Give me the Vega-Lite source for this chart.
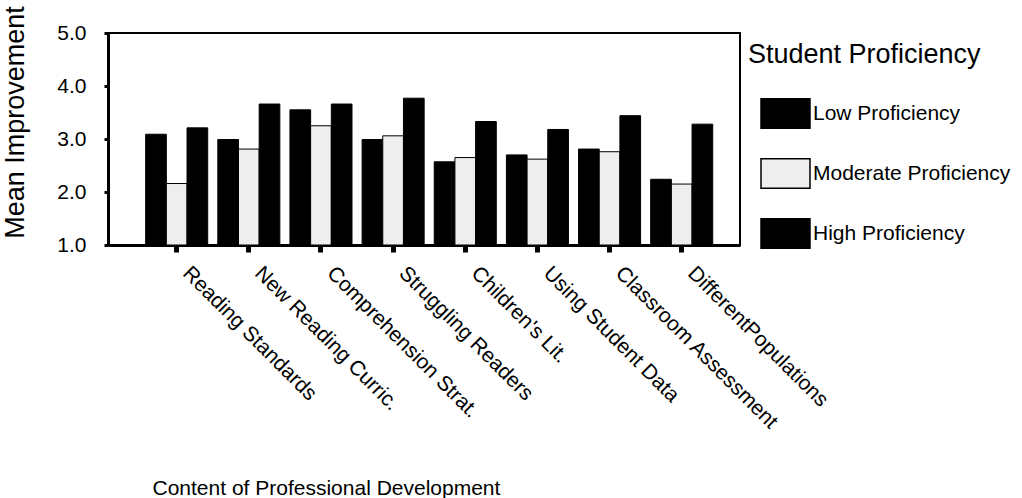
{
  "$schema": "https://vega.github.io/schema/vega-lite/v6.json",
  "autosize": "none",
  "width": 632,
  "height": 212,
  "padding": {"left": 108, "top": 33, "right": 282, "bottom": 253},
  "background": "white",
  "config": {"font": "Liberation Sans", "view": {"stroke": "black", "strokeWidth": 2}},
  "data": {"values": [
    {"content": "Reading Standards", "level": "Low Proficiency", "value": 3.09},
    {"content": "Reading Standards", "level": "Moderate Proficiency", "value": 2.16},
    {"content": "Reading Standards", "level": "High Proficiency", "value": 3.21},
    {"content": "New Reading Curric.", "level": "Low Proficiency", "value": 2.99},
    {"content": "New Reading Curric.", "level": "Moderate Proficiency", "value": 2.81},
    {"content": "New Reading Curric.", "level": "High Proficiency", "value": 3.66},
    {"content": "Comprehension Strat.", "level": "Low Proficiency", "value": 3.55},
    {"content": "Comprehension Strat.", "level": "Moderate Proficiency", "value": 3.25},
    {"content": "Comprehension Strat.", "level": "High Proficiency", "value": 3.66},
    {"content": "Struggling Readers", "level": "Low Proficiency", "value": 2.99},
    {"content": "Struggling Readers", "level": "Moderate Proficiency", "value": 3.06},
    {"content": "Struggling Readers", "level": "High Proficiency", "value": 3.77},
    {"content": "Children's Lit.", "level": "Low Proficiency", "value": 2.57},
    {"content": "Children's Lit.", "level": "Moderate Proficiency", "value": 2.65},
    {"content": "Children's Lit.", "level": "High Proficiency", "value": 3.33},
    {"content": "Using Student Data", "level": "Low Proficiency", "value": 2.70},
    {"content": "Using Student Data", "level": "Moderate Proficiency", "value": 2.62},
    {"content": "Using Student Data", "level": "High Proficiency", "value": 3.18},
    {"content": "Classroom Assessment", "level": "Low Proficiency", "value": 2.81},
    {"content": "Classroom Assessment", "level": "Moderate Proficiency", "value": 2.76},
    {"content": "Classroom Assessment", "level": "High Proficiency", "value": 3.44},
    {"content": "DifferentPopulations", "level": "Low Proficiency", "value": 2.24},
    {"content": "DifferentPopulations", "level": "Moderate Proficiency", "value": 2.15},
    {"content": "DifferentPopulations", "level": "High Proficiency", "value": 3.28}
  ]},
  "mark": {"type": "bar", "stroke": "black", "strokeWidth": 1},
  "encoding": {
    "x": {
      "field": "content", "type": "nominal",
      "sort": ["Reading Standards", "New Reading Curric.", "Comprehension Strat.", "Struggling Readers", "Children's Lit.", "Using Student Data", "Classroom Assessment", "DifferentPopulations"],
      "scale": {"paddingInner": 0.14, "paddingOuter": 0.45, "align": 0.58},
      "axis": {
        "domainColor": "black", "domainWidth": 3,
        "tickColor": "black", "tickWidth": 5, "tickSize": 7,
        "labelAngle": 45, "labelAlign": "left", "labelBaseline": "top",
        "labelFontSize": 21, "labelPadding": 10, "labelOffset": 17, "labelColor": "black", "labelLimit": 0,
        "title": "Content of Professional Development",
        "titleFontSize": 21, "titleFontWeight": "normal", "titleColor": "black",
        "titleX": 44, "titleY": 249, "titleAlign": "left", "titleAnchor": "start", "titleBaseline": "alphabetic"
      }
    },
    "xOffset": {
      "field": "level",
      "sort": ["Low Proficiency", "Moderate Proficiency", "High Proficiency"],
      "scale": {"paddingInner": 0, "paddingOuter": 0}
    },
    "y": {
      "field": "value", "type": "quantitative",
      "scale": {"domain": [1, 5], "nice": false, "zero": false},
      "axis": {
        "values": [1, 2, 3, 4, 5], "format": ".1f", "grid": false,
        "domainColor": "black", "domainWidth": 3,
        "tickColor": "black", "tickWidth": 3, "tickSize": 4,
        "labelFontSize": 21, "labelPadding": 18, "labelColor": "black",
        "title": "Mean Improvement",
        "titleFontSize": 27, "titleFontWeight": "normal", "titleColor": "black",
        "titleAngle": -90, "titleX": -93, "titleY": 89, "titleAlign": "center", "titleBaseline": "middle"
      }
    },
    "y2": {"datum": 1},
    "fill": {
      "field": "level", "type": "nominal",
      "sort": ["Low Proficiency", "Moderate Proficiency", "High Proficiency"],
      "scale": {"domain": ["Low Proficiency", "Moderate Proficiency", "High Proficiency"], "range": ["#000000", "#eeeeee", "#000000"]},
      "legend": {
        "orient": "none", "legendX": 640, "legendY": 9,
        "title": "Student Proficiency", "titleLimit": 0,
        "titleFontSize": 27, "titleFontWeight": "normal", "titleColor": "black", "titlePadding": 19,
        "symbolType": "M-1,-0.6L1,-0.6L1,0.6L-1,0.6Z",
        "symbolSize": 2401, "symbolStrokeColor": "black", "symbolStrokeWidth": 1.5,
        "symbolOffset": 12,
        "labelFontSize": 21, "labelColor": "black", "labelOffset": 2, "labelLimit": 0,
        "rowPadding": 16
      }
    }
  }
}
